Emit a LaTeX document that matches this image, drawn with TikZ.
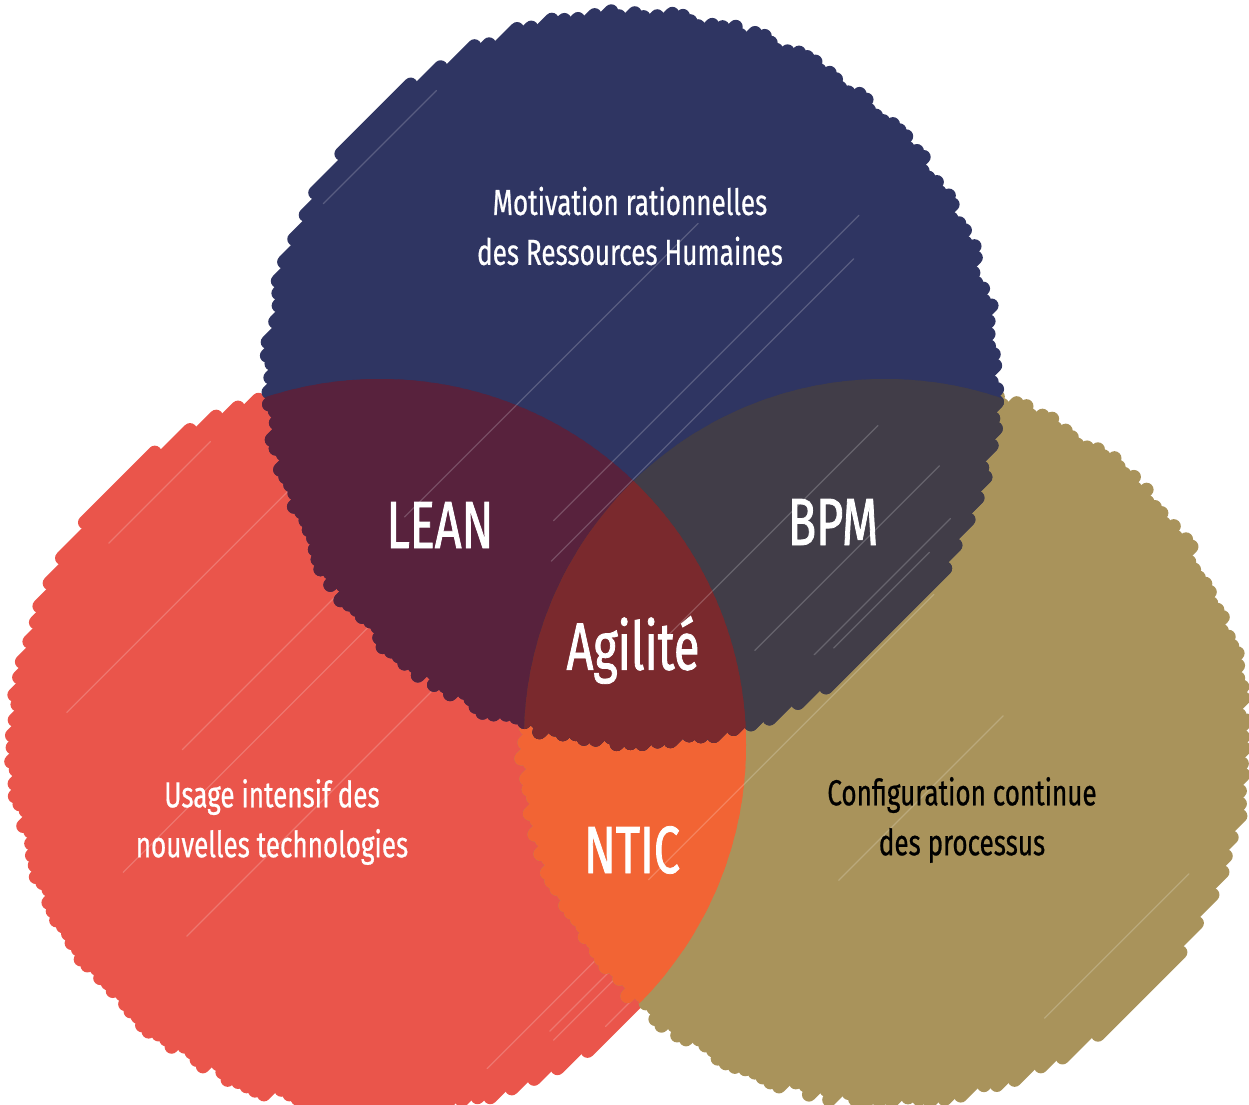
\documentclass[tikz,border=0pt]{standalone}
\usepackage{fontspec}
\newfontfamily\hand{Fira Sans}[FakeStretch=0.72]
\newfontfamily\handbig{Fira Sans}[FakeStretch=0.7,FakeBold=1.2]
\newfontfamily\handmid{Fira Sans}[FakeStretch=0.72,FakeBold=0.6]
\definecolor{cblue}{HTML}{2F3562}
\definecolor{cred}{HTML}{EA554B}
\definecolor{cgold}{HTML}{A9935B}
\definecolor{cbr}{HTML}{58223D}
\definecolor{cbg}{HTML}{413D48}
\definecolor{crg}{HTML}{F26434}
\definecolor{call}{HTML}{7A292D}
\newcommand\scrib[5]{%
  \pgfmathsetseed{#5}%
  \pgfmathtruncatemacro\nmax{(2*#3-8)/9}%
  \foreach \i in {0,...,\nmax}{%
    \pgfmathsetmacro\tv{-#3+4+9*\i}%
    \pgfmathsetmacro\LL{100*sqrt(max((#3/100)^2-(\tv/100)^2,0))-7}%
    \pgfmathsetmacro\La{\LL+6*rand}%
    \pgfmathsetmacro\Lb{\LL+6*rand}%
    \draw[scribline,draw=#4] ({#1+0.7071*(\tv-\La)},{#2+0.7071*(\tv+\La)}) -- ({#1+0.7071*(\tv+\Lb)},{#2+0.7071*(\tv-\Lb)});
  }%
  \foreach \i in {0,...,\nmax}{%
    \pgfmathsetmacro\tv{-#3+8.5+9*\i}%
    \pgfmathsetmacro\LL{100*sqrt(max((#3/100)^2-(\tv/100)^2,0))-30}%
    \pgfmathsetmacro\La{\LL*(0.3+0.6*rnd)}%
    \pgfmathsetmacro\Lb{\LL*(0.3+0.6*rnd)}%
    \pgfmathtruncatemacro\ok{rand>0.75?1:0}%
    \ifnum\ok=1
      \ifdim\LL pt>10pt
        \draw[thinline,draw=#4!80!white] ({#1+0.7071*(\tv-\La)},{#2+0.7071*(\tv+\La)}) -- ({#1+0.7071*(\tv+\Lb)},{#2+0.7071*(\tv-\Lb)});
      \fi
    \fi
  }%
}
\begin{document}
\begin{tikzpicture}[x=0.02cm,y=-0.02cm,
  scribline/.style={line width=0.28cm,line cap=round},
  thinline/.style={line width=0.025cm,line cap=round},
  lbl/.style={text=white,font=\handmid\fontsize{20.6}{28.4}\selectfont,align=center,inner sep=0pt},
  big/.style={text=white,font=\handbig\fontsize{38}{40}\selectfont,inner sep=0pt}]
\useasboundingbox (0,0) rectangle (1249,1105);
\clip (0,0) rectangle (1249,1105);
% red circle
\scrib{380}{745}{370}{cred}{11}
% gold circle
\scrib{885}{740}{365}{cgold}{22}
\begin{scope}
  \clip (380,745) circle[radius=366];
  \scrib{885}{740}{365}{crg}{22}
\end{scope}
% blue circle
\scrib{632}{378}{368}{cblue}{33}
\begin{scope}
  \clip (380,745) circle[radius=366];
  \scrib{632}{378}{368}{cbr}{33}
\end{scope}
\begin{scope}
  \clip (885,740) circle[radius=361];
  \scrib{632}{378}{368}{cbg}{33}
\end{scope}
\begin{scope}
  \clip (380,745) circle[radius=366];
  \clip (885,740) circle[radius=361];
  \scrib{632}{378}{368}{call}{33}
\end{scope}
% labels
\node[lbl] (hr) at (630,226) {Motivation rationnelles\\des Ressources Humaines};
\node[lbl] (tech) at (272,822) {Usage intensif des\\nouvelles technologies};
\node[lbl,text=black] (proc) at (962,820) {Configuration continue\\des processus};
\node[big] (lean) at (440,525) {LEAN};
\node[big] (bpm) at (833,522) {BPM};
\node[big] (agil) at (633,650) {Agilité};
\node[big] (ntic) at (632,850) {NTIC};
\end{tikzpicture}
\end{document}
